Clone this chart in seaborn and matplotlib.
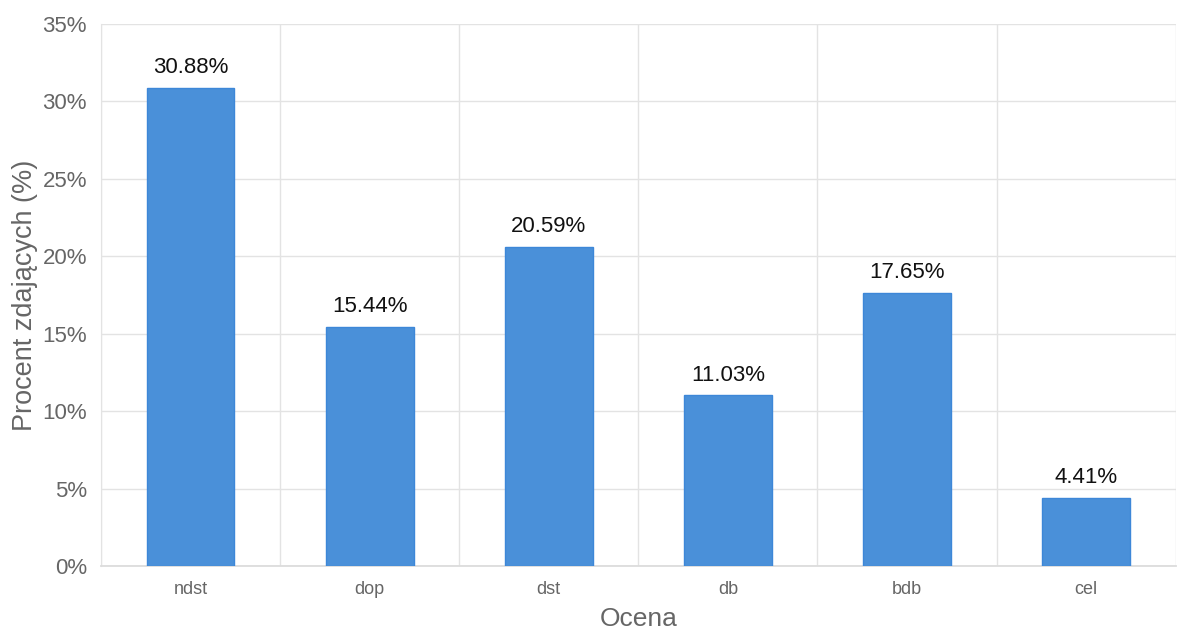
import numpy as np
import pandas as pd
import seaborn as sns
from matplotlib import pyplot as plt
from matplotlib.ticker import FuncFormatter, MultipleLocator, FixedLocator

categories = ['ndst', 'dop', 'dst', 'db', 'bdb', 'cel']
percent = [30.88, 15.44, 20.59, 11.03, 17.65, 4.41]

sns.set_style('white')
plt.rcParams['font.family'] = ['Liberation Sans', 'DejaVu Sans']

df = pd.DataFrame({'Ocena': categories, 'Procent': percent})

fig = plt.figure(figsize=(11.78, 6.33), dpi=100)
ax = fig.add_axes([0.0857, 0.1058, 0.9123, 0.8562])

sns.barplot(data=df, x='Ocena', y='Procent', ax=ax, color='#4a90d9', saturation=1,
            width=0.49, edgecolor='#3d87d8', linewidth=1, zorder=3)

for i, v in enumerate(percent):
    ax.annotate(f'{v:.2f}%', (i, v), xytext=(0, 7), textcoords='offset points',
                ha='center', va='bottom', fontsize=16, color='#111111')

ax.set_ylim(0, 35)
ax.set_xlim(-0.5, len(categories) - 0.5)
ax.yaxis.set_major_locator(MultipleLocator(5))
ax.yaxis.set_major_formatter(FuncFormatter(lambda v, p: f'{v:.0f}%'))

# grid lines at category boundaries (chart.js style)
ax.xaxis.set_minor_locator(FixedLocator(np.arange(-0.5, len(categories), 1)))
ax.grid(axis='x', which='minor', color='#e3e3e3', linewidth=1, zorder=0)
ax.grid(axis='y', which='major', color='#e3e3e3', linewidth=1, zorder=0)
ax.tick_params(axis='x', which='major', length=0, labelsize=13, labelcolor='#666666', pad=11)
ax.tick_params(axis='x', which='minor', length=8, color='#e3e3e3', width=1)
ax.tick_params(axis='y', length=6, color='#e3e3e3', labelsize=16, labelcolor='#666666', pad=4)

for s in ['top', 'right']:
    ax.spines[s].set_visible(False)
ax.spines['left'].set_color('#e3e3e3')
ax.spines['bottom'].set_color('#dcdcdc')
ax.spines['bottom'].set_linewidth(1.3)

ax.set_xlabel('Ocena', fontsize=19, color='#666666', labelpad=6)
ax.set_ylabel('Procent zdających (%)', fontsize=19.5, color='#666666', labelpad=3)

fig.savefig('out.png', dpi=100)
